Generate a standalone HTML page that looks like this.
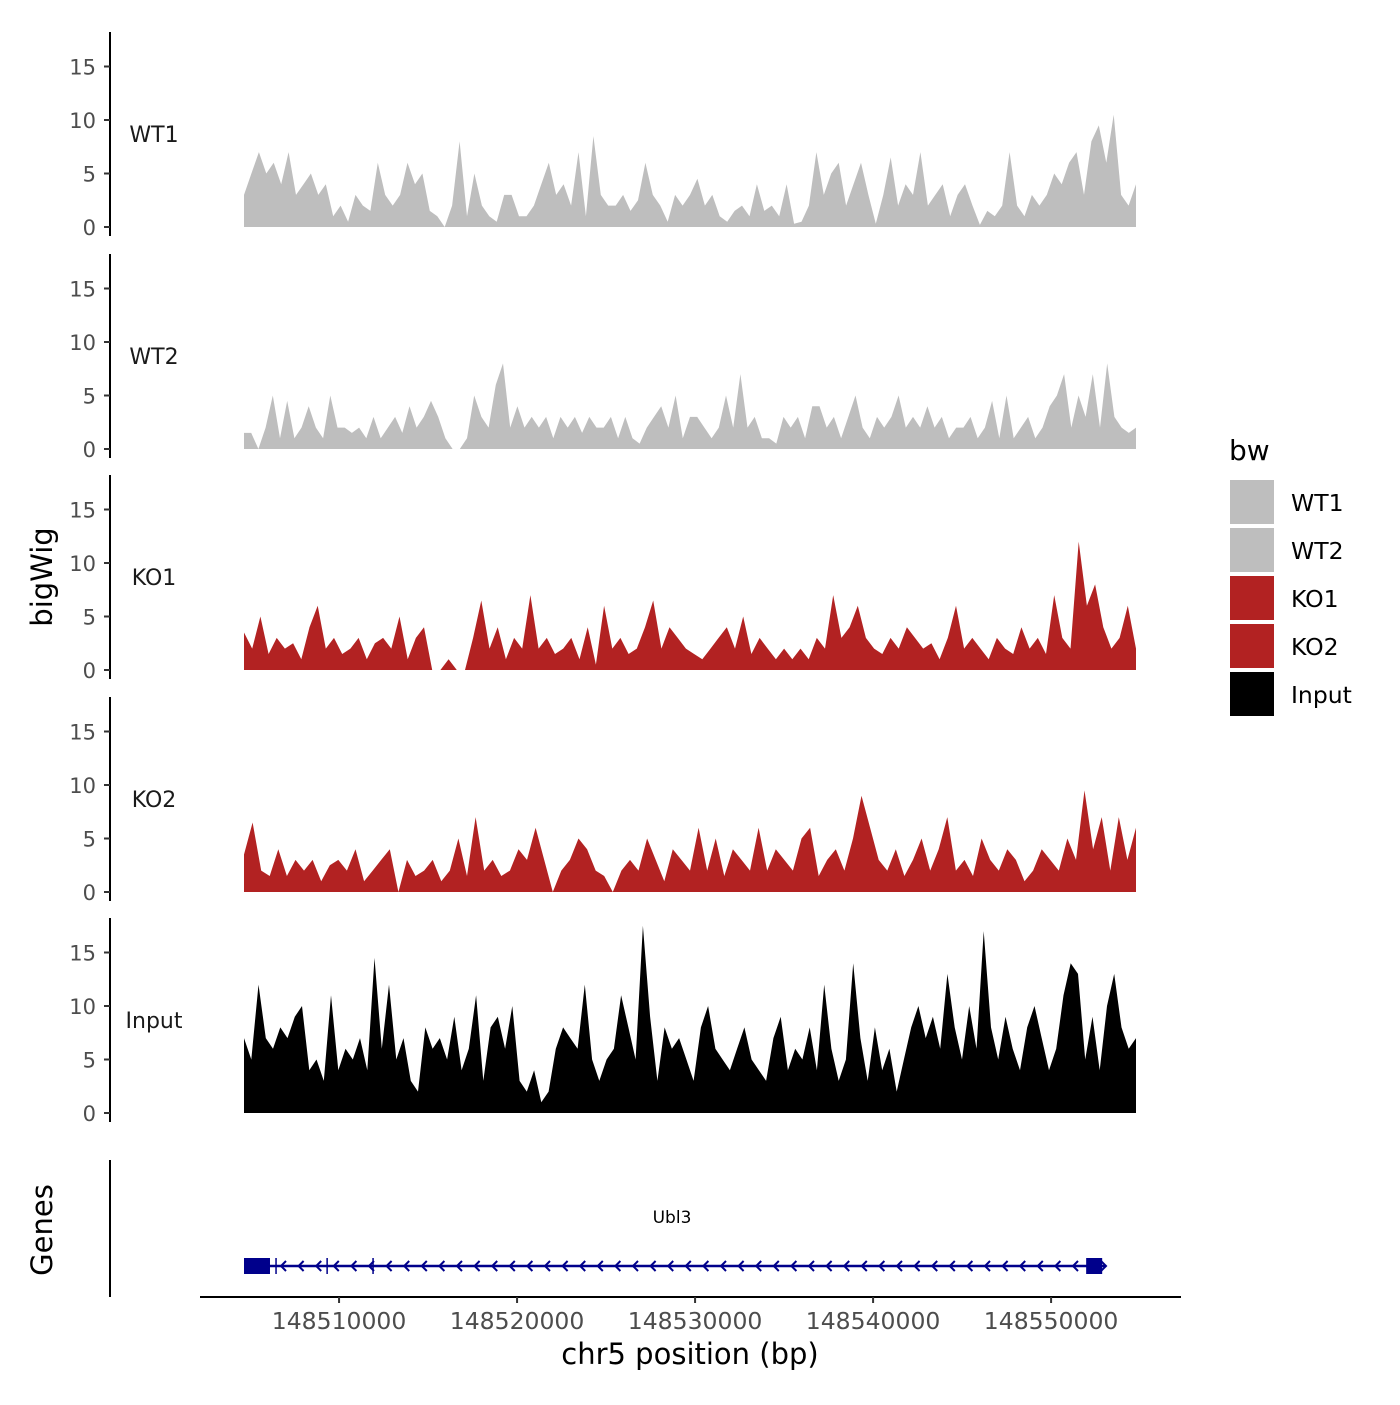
<!DOCTYPE html>
<html><head><meta charset="utf-8"><style>
body{margin:0;background:#fff}
text{font-family:"DejaVu Sans","Liberation Sans",sans-serif}
</style></head><body>
<svg id="c" width="1400" height="1400" xmlns="http://www.w3.org/2000/svg"></svg>
<script>
const trackNames=["WT1","WT2","KO1","KO2","Input"];
const trackColors=["#bebebe","#bebebe","#b22222","#b22222","#000000"];
const wt1=[3,5,7,5,6,4,7,3,4,5,3,4,1,2,0.5,3,2,1.5,6,3,2,3,6,4,5,1.5,1,0,2,8,1,5,2,1,0.5,3,3,1,1,2,4,6,3,4,2,7,1,8.5,3,2,2,3,1.5,2.5,6,3,2,0.5,3,2,3,4.5,2,3,1,0.5,1.5,2,1,4,1.5,2,1,4,0.3,0.5,2,7,3,5,6,2,4,6,3,0.3,3,6.5,2,4,3,7,2,3,4,1,3,4,2,0.2,1.5,1,2,7,2,1,3,2,3,5,4,6,7,3,8,9.5,6,10.5,3,2,4];
const wt2=[1.5,1.5,0,2,5,1,4.5,1,2,4,2,1,5,2,2,1.5,2,1,3,1,2,3,1.5,4,2,3,4.5,3,1,0,0,1,5,3,2,6,8,2,4,2,3,2,3,1,3,2,3,1.5,3,2,2,3,1,3,1,0.5,2,3,4,2,5,1,3,3,2,1,2,5,2,7,2,3,1,1,0.5,3,2,3,1,4,4,2,3,1,3,5,2,1,3,2,3,5,2,3,2,4,2,3,1,2,2,3,1,2,4.5,1,5,1,2,3,1,2,4,5,7,2,5,3,7,2,8,3,2,1.5,2];
const ko1=[3.5,2,5,1.5,3,2,2.5,1,4,6,2,3,1.5,2,3,1,2.5,3,2,5,1,3,4,0,0,1,0,0,3,6.5,2,4,1,3,2,7,2,3,1.5,2,3,1,4,0.5,6,2,3,1.5,2,4,6.5,2,4,3,2,1.5,1,2,3,4,2,5,1.5,3,2,1,2,1,2,1,3,2,7,3,4,6,3,2,1.5,3,2,4,3,2,2.5,1,3,6,2,3,2,1,3,2,1.5,4,2,3,1.5,7,3,2,12,6,8,4,2,3,6,2];
const ko2=[3.5,6.5,2,1.5,4,1.5,3,2,3,1,2.5,3,2,4,1,2,3,4,0,3,1.5,2,3,1,2,5,1.5,7,2,3,1.5,2,4,3,6,3,0,2,3,5,4,2,1.5,0,2,3,2,5,3,1,4,3,2,6,2,5,1.5,4,3,2,6,2,4,3,2,5,6,1.5,3,4,2,5,9,6,3,2,4,1.5,3,5,2,4,7,2,3,1.5,5,3,2,4,3,1,2,4,3,2,5,3,9.5,4,7,2,7,3,6];
const inp=[7,5,12,7,6,8,7,9,10,4,5,3,11,4,6,5,7,4,14.5,6,12,5,7,3,2,8,6,7,5,9,4,6,11,3,8,9,6,10,3,2,4,1,2,6,8,7,6,12,5,3,5,6,11,8,5,17.5,9,3,8,6,7,5,3,8,10,6,5,4,6,8,5,4,3,7,9,4,6,5,8,4,12,6,3,5,14,7,3,8,4,6,2,5,8,10,7,9,6,13,8,5,10,6,17,8,5,9,6,4,8,10,7,4,6,11,14,13,5,9,4,10,13,8,6,7];
const trackData=[wt1,wt2,ko1,ko2,inp];
const yTicks=[0,5,10,15];
const xTicks=[148510000,148520000,148530000,148540000,148550000];
const xStart=148504660, xEnd=148554770;
const geneExons=[[148504660,148506120],[148551970,148552870]];
const geneStart=148504660, geneEnd=148553090;
const geneTicks=[148506460,148509330,148511910];
const legendLabels=["WT1","WT2","KO1","KO2","Input"];

const NS="http://www.w3.org/2000/svg";
const svg=document.getElementById('c');
function mk(t,a,p){const e=document.createElementNS(NS,t);for(const k in a)e.setAttribute(k,a[k]);(p||svg).appendChild(e);return e;}
const xs=v=>244+(v-xStart)/(xEnd-xStart)*892;
const panelBase=[227,449,670,892,1113];
const ppu=10.7;

trackData.forEach((d,t)=>{
  const g=mk('g',{});
  
  
  const base=panelBase[t];
  const ys=v=>base-v*ppu;
  const n=d.length;
  let p='M'+xs(xStart)+','+base;
  d.forEach((v,i)=>{const bp=xStart+(xEnd-xStart)*i/(n-1);p+=' L'+xs(bp).toFixed(1)+','+ys(v).toFixed(1);});
  p+=' L'+xs(xEnd)+','+base+' Z';
  const a=mk('path',{d:p,fill:trackColors[t]},g);
  
  
  const ax=mk('line',{x1:110,x2:110,y1:base-195,y2:base+9,stroke:'#000','stroke-width':2},g);
  
  
  yTicks.forEach(v=>{
    mk('line',{x1:104,x2:110,y1:ys(v),y2:ys(v),stroke:'#333','stroke-width':2},g);
    const tx=mk('text',{x:96,y:ys(v)+8,'text-anchor':'end','font-size':21,fill:'#4d4d4d'},g);
    tx.textContent=v;
    
    
  });
  const lb=mk('text',{x:154,y:base-85,'text-anchor':'middle','font-size':22,fill:'#1a1a1a'},g);
  lb.textContent=trackNames[t];
  
  
});

const yt=mk('text',{x:0,y:0,'text-anchor':'middle','font-size':29,fill:'#000',transform:'translate(52,577) rotate(-90)'});
yt.textContent='bigWig';


const gt=mk('text',{x:0,y:0,'text-anchor':'middle','font-size':29,fill:'#000',transform:'translate(52,1230) rotate(-90)'});
gt.textContent='Genes';



const gg=mk('g',{});


mk('line',{x1:110,x2:110,y1:1160,y2:1297,stroke:'#000','stroke-width':2},gg);
mk('line',{x1:xs(geneStart),x2:xs(geneEnd),y1:1266,y2:1266,stroke:'#00008b','stroke-width':2.5},gg);
geneExons.forEach(e=>{
  const r=mk('rect',{x:xs(e[0]),y:1258,width:xs(e[1])-xs(e[0]),height:16,fill:'#00008b'},gg);
  
  
});
geneTicks.forEach(b=>mk('line',{x1:xs(b),x2:xs(b),y1:1258,y2:1274,stroke:'#00008b','stroke-width':1.5},gg));
for(let x=281;x<1080;x+=17.6){mk('path',{d:`M${x+5},1261 L${x},1266 L${x+5},1271`,fill:'none',stroke:'#00008b','stroke-width':2},gg);}
mk('path',{d:'M1101,1261 L1106,1266 L1101,1271',fill:'none',stroke:'#00008b','stroke-width':2},gg);
const gl=mk('text',{x:672,y:1223,'text-anchor':'middle','font-size':17,fill:'#000'},gg);
gl.textContent='Ubl3';



const xa=mk('line',{x1:200,x2:1181,y1:1297,y2:1297,stroke:'#000','stroke-width':2});


xTicks.forEach(v=>{
  mk('line',{x1:xs(v),x2:xs(v),y1:1297,y2:1303,stroke:'#333','stroke-width':2});
  const t=mk('text',{x:xs(v),y:1329,'text-anchor':'middle','font-size':23.5,fill:'#4d4d4d'});
  t.textContent=v;
  
  
});
const xt=mk('text',{x:690,y:1364,'text-anchor':'middle','font-size':29,fill:'#000'});
xt.textContent='chr5 position (bp)';



const lg=mk('g',{});


const lt=mk('text',{x:1229,y:460,'font-size':28,fill:'#000'},lg);
lt.textContent='bw';
legendLabels.forEach((l,i)=>{
  const e=mk('g',{},lg);
  
  
  mk('rect',{x:1230,y:480+i*48,width:44,height:44,fill:trackColors[i]},e);
  const t=mk('text',{x:1291,y:511+i*48,'font-size':23.5,fill:'#000'},e);
  t.textContent=l;
});
</script>
</body></html>
